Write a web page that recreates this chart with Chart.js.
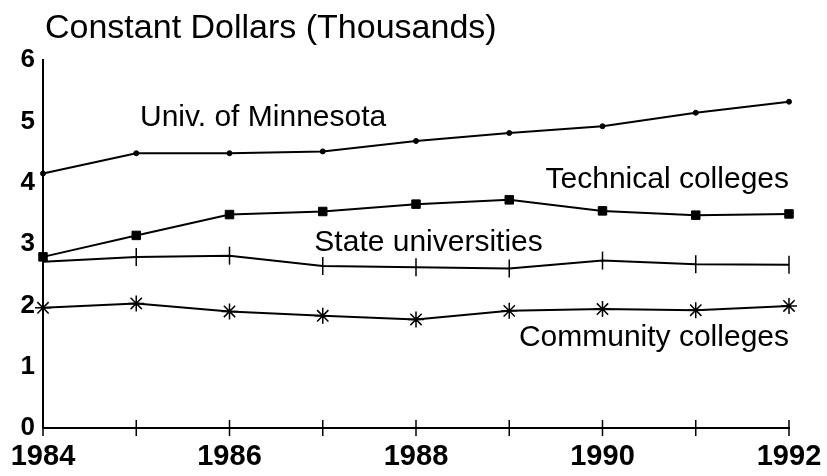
<!DOCTYPE html>
<html>
<head>
<meta charset="utf-8">
<script src="https://cdn.jsdelivr.net/npm/chart.js@4/dist/chart.umd.min.js"></script>
<style>
  html, body { margin: 0; padding: 0; background: #fff; }
  #wrap { width: 827px; height: 476px; }
</style>
</head>
<body>
<div id="wrap"><canvas id="chart" width="827" height="476"></canvas></div>
<script>
const chartTitle = 'Constant Dollars (Thousands)';
const years = [1984, 1985, 1986, 1987, 1988, 1989, 1990, 1991, 1992];
const seriesNames = ['Univ. of Minnesota', 'Technical colleges', 'State universities', 'Community colleges'];

const univMinnesota = [4.15, 4.48, 4.48, 4.51, 4.68, 4.81, 4.92, 5.14, 5.32];
const technicalColleges = [2.79, 3.14, 3.48, 3.53, 3.65, 3.72, 3.54, 3.47, 3.49];
const stateUniversities = [2.71, 2.79, 2.81, 2.64, 2.62, 2.60, 2.73, 2.67, 2.66];
const communityColleges = [1.96, 2.03, 1.90, 1.83, 1.77, 1.91, 1.94, 1.92, 1.99];

const FONT = '"Liberation Sans", Arial, Helvetica, sans-serif';

const toPoints = vals => vals.map((v, i) => ({ x: years[i], y: v }));

// where the series names sit, in data units
const labelSpots = [
    { x: 1985.04, y: 5.06, align: 'left' },
    { x: 1992, y: 4.05, align: 'right' },
    { x: 1986.91, y: 3.02, align: 'left' },
    { x: 1992, y: 1.47, align: 'right' }
];

const textPlugin = {
    id: 'textPlugin',
    afterDraw(chart) {
        const ctx = chart.ctx;
        const xs = chart.scales.x;
        const ys = chart.scales.y;
        ctx.save();

        // x axis marks cross the axis line
        ctx.strokeStyle = '#000';
        ctx.lineWidth = 1.5;
        const y0 = ys.getPixelForValue(0);
        years.forEach(yr => {
            const px = xs.getPixelForValue(yr);
            ctx.beginPath();
            ctx.moveTo(px, y0 - 8);
            ctx.lineTo(px, y0 + 8);
            ctx.stroke();
        });

        ctx.fillStyle = '#000';
        ctx.textBaseline = 'middle';
        ctx.textAlign = 'left';
        ctx.font = '34px ' + FONT;
        ctx.fillText(chartTitle, 45, 29);

        ctx.font = '30px ' + FONT;
        seriesNames.forEach((name, i) => {
            const spot = labelSpots[i];
            ctx.textAlign = spot.align;
            ctx.fillText(name, xs.getPixelForValue(spot.x), ys.getPixelForValue(spot.y));
        });
        ctx.restore();
    }
};

const lineBase = {
    borderColor: '#000',
    backgroundColor: '#000',
    pointBorderColor: '#000',
    pointBackgroundColor: '#000',
    borderWidth: 2,
    tension: 0,
    fill: false,
    clip: false
};

new Chart(document.getElementById('chart').getContext('2d'), {
    type: 'line',
    data: {
        datasets: [
            { ...lineBase, label: seriesNames[0], data: toPoints(univMinnesota), pointStyle: 'circle', pointRadius: 2.5, pointBorderWidth: 1 },
            { ...lineBase, label: seriesNames[1], data: toPoints(technicalColleges), pointStyle: 'rect', pointRadius: 6, pointBorderWidth: 1 },
            { ...lineBase, label: seriesNames[2], data: toPoints(stateUniversities), pointStyle: 'line', pointRotation: 90, pointRadius: 9, pointBorderWidth: 1.5 },
            { ...lineBase, label: seriesNames[3], data: toPoints(communityColleges), pointStyle: 'star', pointRadius: 8, pointBorderWidth: 1.5 }
        ]
    },
    options: {
        responsive: false,
        animation: false,
        layout: { padding: { left: 20, right: 38, top: 60, bottom: 0 } },
        plugins: {
            legend: { display: false },
            tooltip: { enabled: false }
        },
        scales: {
            x: {
                type: 'linear',
                min: 1984,
                max: 1992,
                afterFit: s => {
                    s.height = 48;
                    s.paddingLeft = 0;
                    s.paddingRight = 0;
                },
                grid: { display: true, drawOnChartArea: false, drawTicks: false },
                border: { display: true, color: '#000', width: 2 },
                ticks: {
                    stepSize: 1,
                    autoSkip: false,
                    maxRotation: 0,
                    padding: 12,
                    color: '#000',
                    font: { family: FONT, size: 29, weight: 'bold' },
                    callback: v => (v % 2 === 0 ? String(v) : '')
                }
            },
            y: {
                min: 0,
                max: 6,
                afterFit: s => { s.width = 23; },
                grid: { display: true, drawOnChartArea: false, drawTicks: false },
                border: { display: true, color: '#000', width: 2 },
                ticks: {
                    stepSize: 1,
                    padding: 8,
                    color: '#000',
                    font: { family: FONT, size: 26, weight: 'bold' }
                }
            }
        }
    },
    plugins: [textPlugin]
});
</script>
</body>
</html>
